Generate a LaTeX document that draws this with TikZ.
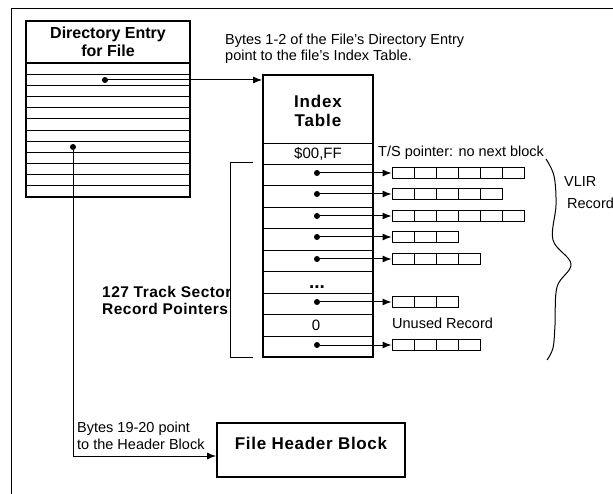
\documentclass[tikz,border=0pt]{standalone}
\usepackage{fontspec}
\setmainfont{Liberation Sans}
\usetikzlibrary{arrows.meta}
\begin{document}
\begin{tikzpicture}[x=1pt,y=-1pt,
  box/.style={draw, line width=1.8pt, inner sep=0pt},
  thin/.style={line width=0.9pt},
  conn/.style={line width=1pt, -{Latex[length=9pt,width=7pt]}},
  dotn/.style={circle, fill, inner sep=0pt, minimum size=6pt},
  cell/.style={draw, line width=0.9pt, inner sep=0pt, minimum width=22pt, minimum height=11pt},
  reg/.style={inner sep=0pt, font=\fontsize{14.5}{16.5}\selectfont},
  ttl/.style={inner sep=0pt, font=\fontsize{15.5}{17.5}\selectfont\bfseries}
]
\useasboundingbox (0,0) rectangle (613,494);
% frame
\draw[line width=1pt] (11,494) -- (11,9) -- (613,9);

% directory entry
\node[box, minimum width=164pt, minimum height=176pt] (dir) at (108,109) {};
\node[ttl, align=center, font=\fontsize{16}{17.5}\selectfont\bfseries] (dirt) at (108,42) {Directory Entry\\for File};
\draw[line width=1.2pt] (26,63) -- (190,63);
\foreach \k in {1,...,11} \draw[thin] (26,{63+\k*11.17}) -- (190,{63+\k*11.17});
\node[dotn] (dA) at (105,80) {};
\node[dotn] (dB) at (73,147) {};

% index table
\node[box, minimum width=110pt, minimum height=282pt] (idx) at (318,216) {};
\node[ttl, align=center, font=\fontsize{17}{18.5}\selectfont\bfseries\addfontfeature{LetterSpace=5}] (idxt) at (318,111) {Index\\Table};
\draw[thin] (263,143) -- (373,143);
\foreach \k in {1,...,9} \draw[thin] (263,{143+\k*21.45}) -- (373,{143+\k*21.45});
\node[reg, font=\fontsize{15}{17}\selectfont] (ff) at (318,154) {\$00,FF};
\node[reg, anchor=base, font=\fontsize{19}{20}\selectfont\bfseries] (ell) at (317,289) {...};
\node[reg, font=\fontsize{15}{17}\selectfont] (zero) at (316,325) {0};

% arrow dir -> index
\draw[conn] (dA) -- (dA -| idx.west);

% bracket
\draw[line width=1pt] (253,163) -- (230,163) -- (230,357) -- (253,357);
\node[ttl, align=left, anchor=west, font=\fontsize{15.5}{17}\selectfont\bfseries\addfontfeature{LetterSpace=3}] (tsp) at (102,300) {127 Track Sector\\Record Pointers};

% records
\foreach \r/\y/\n in {1/173/6, 2/194/5, 3/216/6, 4/237/3, 5/259/4, 6/302/3, 7/345/4} {
  \node[dotn] (p\r) at (317,\y) {};
  \foreach \k in {1,...,\n} \node[cell] (c\r-\k) at ({403+22*(\k-1)},\y) {};
  \draw[conn] (p\r) -- (c\r-1.west);
}

% labels
\node[reg, align=left, anchor=west] (b12) at (225,49) {Bytes 1-2 of the File's Directory Entry\\point to the file's Index Table.};
\node[reg, anchor=west] (tsl) at (378,153) {T/S pointer: no next block};
\node[reg, anchor=west] (unu) at (392,323) {Unused Record};
\node[reg, anchor=west] (vl) at (564,182) {VLIR};
\node[reg, anchor=west] (vr) at (567,203) {Record};

% brace
\draw[line width=1pt] plot[smooth, tension=0.6] coordinates {(546,159) (554,176) (556,205) (553,240) (571,264) (557,287) (555,325) (553,348) (547,360)};

% file header block
\node[box, minimum width=188pt, minimum height=54pt] (fhb) at (311,450) {};
\node[ttl, font=\fontsize{17}{18}\selectfont\bfseries\addfontfeature{LetterSpace=4}] (fht) at (311,443) {File Header Block};
\draw[conn] (dB) |- ([yshift=-6pt]fhb.west);
\node[reg, align=left, anchor=west] (b19) at (77,436) {Bytes 19-20 point\\to the Header Block};
\end{tikzpicture}
\end{document}
